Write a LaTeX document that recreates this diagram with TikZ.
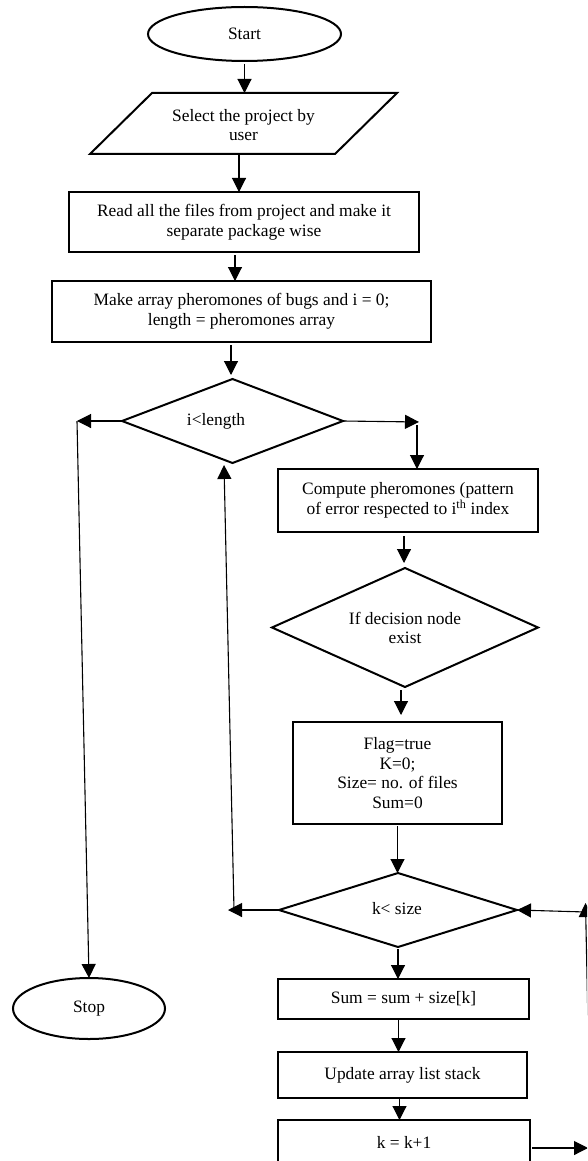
\documentclass[tikz,border=0pt]{standalone}
\usepackage{fontspec}
\setmainfont{Liberation Serif}
\usetikzlibrary{shapes.geometric,arrows.meta}
\begin{document}
\begin{tikzpicture}[x=1pt,y=-1pt,
  every node/.style={font=\fontsize{17.4}{19.6}\selectfont, inner sep=0pt, outer sep=0pt, align=center},
  shp/.style={draw=black, line width=2pt},
  box/.style={shp, rectangle},
  oval/.style={shp, ellipse},
  dia/.style={shp, diamond},
  arr/.style={line width=1.1pt, -{Triangle[length=14pt,width=14pt]}}]
\useasboundingbox (0,0) rectangle (587,1161);
\clip (0,0) rectangle (587,1161);
\fill[white] (0,0) rectangle (587,1161);

% shapes
\node[oval, minimum width=193, minimum height=54] (start) at (244.5,34) {Start};
\draw[shp] (152,93) -- (397,93) -- (335,154) -- (90,154) -- cycle;
\node (para) at (243.5,125) {Select the project by\\user};
\coordinate (paraT) at (244.5,93);
\coordinate (paraB) at (239,154);
\node[box, minimum width=350, minimum height=60] (read) at (244,222) {Read all the files from project and make it\\separate package wise};
\node[box, minimum width=379, minimum height=61] (make) at (241.5,311.5) {Make array pheromones of bugs and i = 0;\\length = pheromones array};
\node[dia, minimum width=221, minimum height=84] (d1) at (232.5,421) {};
\node (d1t) at (216,421) {i<length};
\node[box, minimum width=260, minimum height=63] (compute) at (408,500.5) {Compute pheromones (pattern\\of error respected to i\textsuperscript{th} index};
\node[dia, minimum width=266, minimum height=119] (d2) at (405,627.5) {};
\node (d2t) at (405,628) {If decision node\\exist};
\node[box, minimum width=209, minimum height=102] (flag) at (397.5,773) {Flag=true\\K=0;\\Size= no. of files\\Sum=0};
\node[dia, minimum width=238, minimum height=74] (d3) at (398,910) {};
\node (d3t) at (397,909) {k< size};
\node[oval, minimum width=152, minimum height=61] (stop) at (89,1008.5) {Stop};
\node[box, minimum width=251, minimum height=40] (sum) at (403.5,999) {Sum = sum + size[k]};
\node[box, minimum width=249, minimum height=46] (update) at (402.5,1075) {Update array list stack};
\node[box, minimum width=252, minimum height=44] (kk) at (404,1142) {k = k+1};

% helper coordinates
\coordinate (lc) at (77,421);
\coordinate (rc) at (419,422);
\coordinate (rc2) at (417,425);
\coordinate (lc2) at (228,910);
\coordinate (lc2b) at (234,910);
\coordinate (up1) at (224,465);
\coordinate (rc3) at (586,912);
\coordinate (rb) at (590.5,1148);
\coordinate (rt) at (585.5,903);
\coordinate (kr) at (588,1148);

% connectors
\draw[arr, shorten <=3pt] (start.south) -- (paraT);
\draw[arr, shorten <=1pt] (paraB) -- (paraB |- read.north);
\draw[arr, shorten <=3pt] ([xshift=-9pt]read.south) -- ([xshift=-9pt]read.south |- make.north);
\draw[arr, shorten <=3pt, shorten >=4pt] ([xshift=-10.5pt]make.south) -- ([xshift=-10.5pt]make.south |- d1.north);
\draw[arr] (d1.west) -- (lc);
\draw[arr] (lc) -- (stop.north);
\draw[arr] (d1.east) -- (rc);
\draw[arr] (rc2) -- (rc2 |- compute.north);
\draw[arr, shorten <=4pt, shorten >=5pt] ([xshift=-4pt]compute.south) -- ([xshift=-4pt]compute.south |- d2.north);
\draw[arr, shorten <=3pt, shorten >=7pt] ([xshift=-4pt]d2.south) -- ([xshift=-4pt]d2.south |- flag.north);
\draw[arr, shorten <=2pt] (flag.south) -- (flag.south |- d3.north);
\draw[arr] (d3.west) -- (lc2);
\draw[arr] (lc2b) -- (up1);
\draw[arr] (rc3) -- (d3.east);
\draw[arr] (rb) -- (rt);
\draw[arr, shorten <=2pt] (d3.south) -- (d3.south |- sum.north);
\draw[arr, shorten <=1pt] ([xshift=-5pt]sum.south) -- ([xshift=-5pt]sum.south |- update.north);
\draw[arr, shorten <=1pt] ([xshift=-3pt]update.south) -- ([xshift=-3pt]update.south |- kk.north);
\draw[arr, shorten <=2pt] ([yshift=-6pt]kk.east) -- (kr);
\end{tikzpicture}
\end{document}
